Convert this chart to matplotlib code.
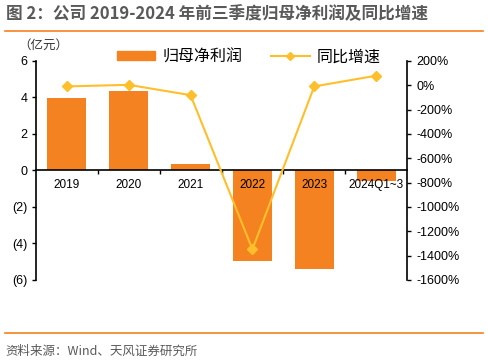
import numpy as np
import matplotlib.pyplot as plt
from matplotlib.lines import Line2D

plt.rcParams['font.family'] = ['Liberation Sans', 'Noto Sans CJK SC', 'DejaVu Sans']

years = ['2019', '2020', '2021', '2022', '2023', '2024Q1~3']
profit = [3.98, 4.38, 0.36, -4.95, -5.40, -0.58]   # 亿元
growth = [-9, 4, -81, -1348, -9, 79]               # %
left_ticks = [6, 4, 2, 0, -2, -4, -6]
left_labels = ['6', '4', '2', '0', '(2)', '(4)', '(6)']
right_ticks = list(range(200, -1601, -200))

bar_color = '#F58220'
line_color = '#FFBF2B'
title_color = '#595959'
cjk = ['Noto Sans CJK SC', 'DejaVu Sans']

fig = plt.figure(figsize=(4.88, 3.63), dpi=100)
ax = fig.add_axes([0.0738, 0.2287, 0.7602, 0.6033])
x = np.arange(len(years))
ax.bar(x, profit, width=0.63, color=bar_color, zorder=1)
ax.set_axisbelow(False)
ax.set_xlim(-0.5, len(years) - 0.5)
ax.set_ylim(-6, 6)
ax.set_yticks(left_ticks)
ax.set_yticklabels(left_labels)
ax.tick_params(axis='y', labelsize=9, length=3, width=1, direction='out', pad=3)

ax.spines['bottom'].set_position(('data', 0))
ax.spines['bottom'].set_linewidth(1.2)
ax.spines['left'].set_linewidth(1.2)
ax.spines['top'].set_visible(False)
ax.spines['right'].set_visible(False)
ax.set_xticks(x)
ax.set_xticklabels(years)
ax.set_xticks(np.arange(0.5, len(years) - 1, 1), minor=True)
ax.tick_params(axis='x', which='major', length=0, labelsize=8.5, pad=6)
ax.tick_params(axis='x', which='minor', length=3, width=1, direction='out')

ax2 = ax.twinx()
ax2.plot(x, growth, color=line_color, lw=1.5, marker='D', ms=5, zorder=4)
ax2.set_ylim(-1600, 200)
ax2.set_yticks(right_ticks)
ax2.set_yticklabels([f'{v}%' for v in right_ticks])
ax2.tick_params(axis='y', labelsize=9, length=3, width=1, direction='out', pad=4)
for s in ['top', 'left', 'bottom']:
    ax2.spines[s].set_visible(False)
ax2.spines['right'].set_linewidth(1.2)

# title, rules and source
fig.text(0.012, 0.96, '图 2：公司 2019-2024 年前三季度归母净利润及同比增速', fontsize=12,
         fontweight='bold', color=title_color, family=cjk, va='center')
fig.add_artist(Line2D([0.01, 0.99], [0.915, 0.915], color='#F58220', lw=1.2))
fig.add_artist(Line2D([0.01, 0.99], [0.082, 0.082], color='#F58220', lw=1.2))
fig.text(0.012, 0.033, '资料来源：Wind、天风证券研究所', fontsize=9, color=title_color,
         family=cjk, va='center')
fig.text(0.038, 0.875, '（亿元）', fontsize=9, color='#333333', family=cjk, va='center')

# legend
handles = [plt.Rectangle((0, 0), 1, 1, color=bar_color),
           Line2D([], [], color=line_color, lw=1.5, marker='D', ms=4)]
fig.legend(handles, ['归母净利润', '同比增速'], loc='center', bbox_to_anchor=(0.51, 0.843),
           ncol=2, frameon=False, prop={'family': cjk, 'size': 11.5},
           handlelength=2.4, handleheight=0.5, columnspacing=1.8, handletextpad=0.45)

fig.savefig('out.png', dpi=100)
